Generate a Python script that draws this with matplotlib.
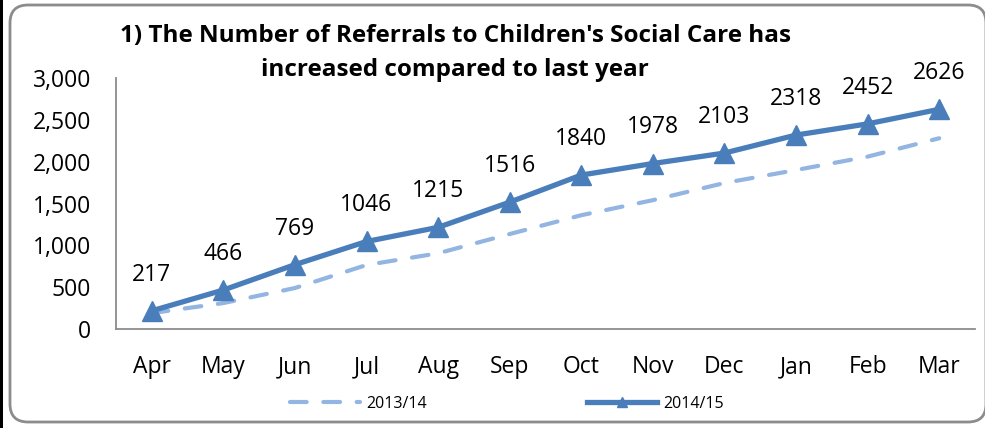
import matplotlib
matplotlib.use("Agg")
import matplotlib.pyplot as plt
from matplotlib.patches import FancyBboxPatch, Rectangle
from matplotlib.transforms import IdentityTransform
from matplotlib.ticker import FuncFormatter

# --- data ---
months = ['Apr', 'May', 'Jun', 'Jul', 'Aug', 'Sep', 'Oct', 'Nov', 'Dec', 'Jan', 'Feb', 'Mar']
referrals_1314 = [190, 310, 490, 765, 905, 1135, 1360, 1540, 1745, 1900, 2060, 2280]
referrals_1415 = [217, 466, 769, 1046, 1215, 1516, 1840, 1978, 2103, 2318, 2452, 2626]
yticks = [0, 500, 1000, 1500, 2000, 2500, 3000]

plt.rcParams['font.family'] = ['Open Sans', 'DejaVu Sans']

fig = plt.figure(figsize=(9.85, 4.28), dpi=100)
W, H = 985, 428

# outer chart frame (rounded grey box) + black strip on the left
frame = FancyBboxPatch((10, 428 - 422), 976, 417,
                       boxstyle="round,pad=0,rounding_size=18",
                       transform=IdentityTransform(), facecolor='none',
                       edgecolor='#8c8c8c', lw=2, zorder=-1)
fig.patches.append(frame)
fig.patches.append(Rectangle((0, 0), 3, H, transform=IdentityTransform(),
                             facecolor='black', edgecolor='none', zorder=-1))

ax = fig.add_axes([116 / W, 1 - 329 / H, (975 - 116) / W, (329 - 78) / H])
ax.patch.set_alpha(0)

x = range(len(months))
blue = '#4a7ebb'
light = '#93b5e1'

ax.plot(x, referrals_1314, color=light, lw=3.0, dashes=(4, 4),
        solid_capstyle='round', dash_capstyle='round', label='2013/14', zorder=2)
ax.plot(x, referrals_1415, color=blue, lw=3.8, marker='^', ms=15,
        label='2014/15', zorder=3)

for i, v in enumerate(referrals_1415):
    ax.annotate(str(v), (i, v), xytext=(0, 26), textcoords='offset points',
                ha='center', va='center', fontsize=16.5, color='black')

ax.set_xlim(-0.5, len(months) - 0.5)
ax.set_ylim(0, 3000)
ax.set_xticks(list(x))
ax.set_xticklabels(months)
ax.set_yticks(yticks)
ax.yaxis.set_major_formatter(FuncFormatter(lambda v, p: f"{int(v):,}"))
ax.tick_params(axis='both', length=0, labelsize=16.5)
ax.tick_params(axis='x', pad=19)
ax.tick_params(axis='y', pad=18)

for s in ['top', 'right']:
    ax.spines[s].set_visible(False)
for s in ['left', 'bottom']:
    ax.spines[s].set_color('#8c8c8c')
    ax.spines[s].set_linewidth(1.3)

fig.text(455 / W, 1 - 53 / H,
         "1) The Number of Referrals to Children's Social Care has\nincreased compared to last year",
         ha='center', va='center', fontsize=17.5, fontweight='bold',
         linespacing=1.55)

leg = ax.legend(loc='center', bbox_to_anchor=(507 / W, 1 - 404 / H),
                bbox_transform=fig.transFigure, ncol=2, frameon=False,
                fontsize=11.5, handlelength=4.4, columnspacing=10,
                handletextpad=0.4, markerscale=0.5)

fig.savefig('out.png', dpi=100)
